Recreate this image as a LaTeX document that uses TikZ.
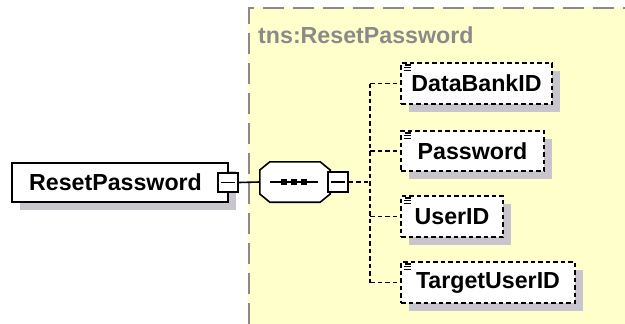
\documentclass[tikz,border=0pt]{standalone}
\usepackage{fontspec}
\setmainfont{Liberation Sans}
\usetikzlibrary{shadows,calc}
\definecolor{bgyellow}{HTML}{FFFFCC}
\definecolor{shadowgray}{HTML}{C8C6CC}
\definecolor{framegray}{HTML}{8A8A8A}
\begin{document}
\begin{tikzpicture}[x=1pt,y=-1pt,
  lbl/.style={font=\bfseries\fontsize{23.2}{27}\selectfont},
  shad/.style={general shadow={fill=shadowgray,shadow xshift=8pt,shadow yshift=-8pt}},
  mainbox/.style={draw=black,line width=1.6pt,fill=white,shad,inner sep=0pt,lbl},
  elembox/.style={draw=black,line width=1.6pt,dash pattern=on 4.5pt off 3pt,fill=white,shad,inner sep=0pt,lbl},
  minusbox/.style={draw=black,line width=1.6pt,fill=white,minimum width=20pt,minimum height=19pt,inner sep=0pt},
  conn/.style={line width=1.6pt},
  dconn/.style={line width=1.6pt,dash pattern=on 4.5pt off 3pt}
]
\useasboundingbox (0,0) rectangle (625,324);
\fill[white] (0,0) rectangle (625,324);
% type frame
\fill[bgyellow] (248,7) rectangle (625,324);
\draw[framegray,line width=1.8pt,dash pattern=on 21pt off 9pt] (249,324) -- (249,8) -- (625,8);
\node[anchor=west,text=framegray,inner sep=0pt,lbl] (tname) at (258,35) {tns:ResetPassword};

% main element
\node[mainbox,minimum width=216pt,minimum height=39pt] (main) at (120,182.5) {\hspace*{-9pt}ResetPassword};
\node[minusbox] (mainminus) at (228,182.5) {};
\draw[conn] ($(mainminus.west)+(4,0)$) -- ($(mainminus.east)+(-4,0)$);

% sequence compositor (octagon)
\node[minimum width=70pt,minimum height=40pt,inner sep=0pt] (seq) at (295,182) {};
\fill[shadowgray,shift={(8,9)}]
  ($(seq.west)+(0,-12)$) -- ($(seq.north west)+(10,0)$) -- ($(seq.north east)+(-10,0)$) -- ($(seq.east)+(0,-12)$)
  -- ($(seq.east)+(0,12)$) -- ($(seq.south east)+(-10,0)$) -- ($(seq.south west)+(10,0)$) -- ($(seq.west)+(0,12)$) -- cycle;
\draw[line width=1.6pt,fill=white]
  ($(seq.west)+(0,-12)$) -- ($(seq.north west)+(10,0)$) -- ($(seq.north east)+(-10,0)$) -- ($(seq.east)+(0,-12)$)
  -- ($(seq.east)+(0,12)$) -- ($(seq.south east)+(-10,0)$) -- ($(seq.south west)+(10,0)$) -- ($(seq.west)+(0,12)$) -- cycle;
\node[minusbox,minimum height=20pt] (seqminus) at (338,182) {};
\draw[conn] ($(seqminus.west)+(4,0)$) -- ($(seqminus.east)+(-4,0)$);
\draw[conn] ($(seq.center)+(-25,0)$) -- ($(seq.center)+(23,0)$);
\foreach \dx in {-11,-1,9}
  \fill ($(seq.center)+(\dx,0)+(-2.7,-2.7)$) rectangle ($(seq.center)+(\dx,0)+(2.7,2.7)$);

% child elements
\node[elembox,minimum width=151pt,minimum height=41pt] (e1) at (476.5,83.5) {DataBankID};
\node[elembox,minimum width=143pt,minimum height=40pt] (e2) at (472.5,151) {Password};
\node[elembox,minimum width=102pt,minimum height=41pt] (e3) at (452,216.5) {UserID};
\node[elembox,minimum width=174pt,minimum height=41pt] (e4) at (488,282.5) {TargetUserID};

\foreach \n in {e1,e2,e3,e4} {
  \draw[line width=1.1pt] ($(\n.north west)+(5,2.8)$) -- ($(\n.north west)+(10.5,2.8)$);
  \draw[line width=1.1pt] ($(\n.north west)+(3.5,5.5)$) -- ($(\n.north west)+(10.5,5.5)$);
  \draw[line width=1.1pt] ($(\n.north west)+(3.5,8.2)$) -- ($(\n.north west)+(10.5,8.2)$);
}

% connectors
\coordinate (bt) at (370,83.5);
\coordinate (bb) at (370,282.5);
\draw[conn] (mainminus.east) -- (seq.west);
\draw[dconn] (seqminus.east) -- (seqminus.east -| bt);
\draw[dconn] (bt) -- (bb);
\foreach \n in {e1,e2,e3,e4}
  \draw[dconn] (\n.west -| bt) -- (\n.west);
\end{tikzpicture}
\end{document}
